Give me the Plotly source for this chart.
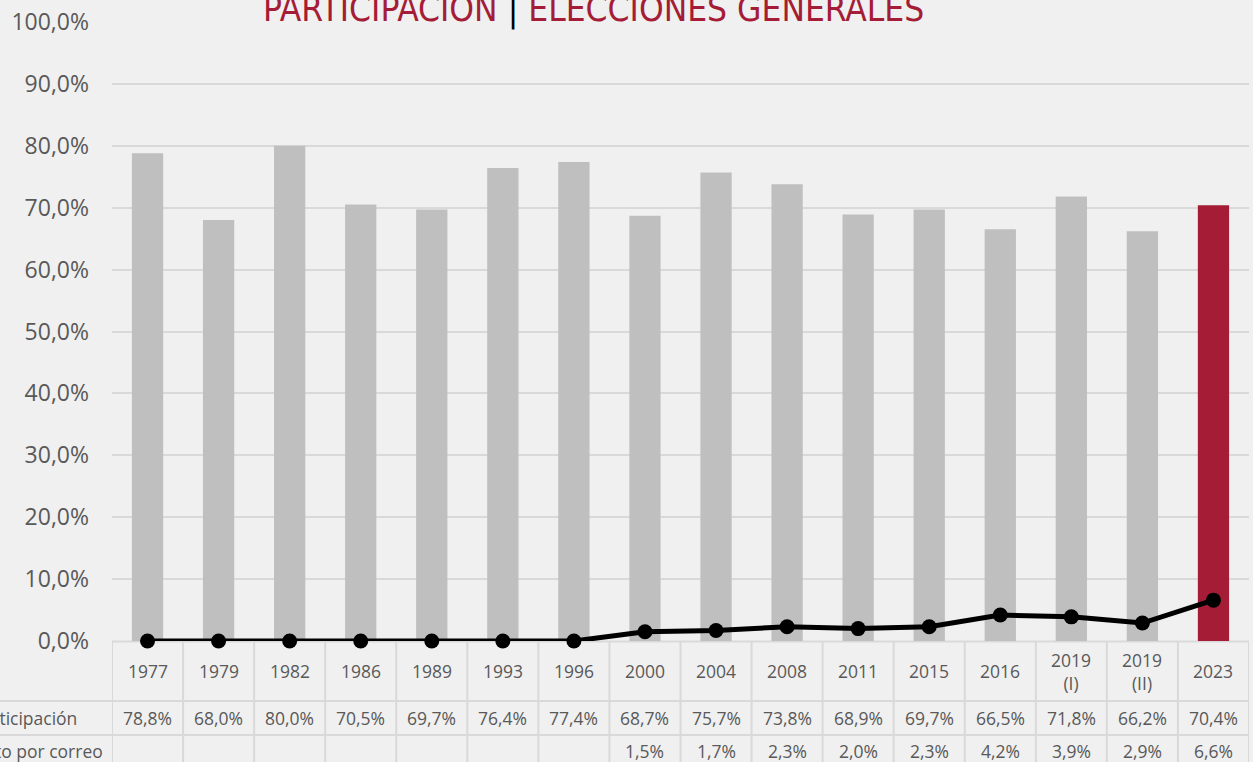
import plotly.graph_objects as go

years = ["1977", "1979", "1982", "1986", "1989", "1993", "1996", "2000", "2004",
         "2008", "2011", "2015", "2016", "2019 (I)", "2019 (II)", "2023"]
year_labels = ["1977", "1979", "1982", "1986", "1989", "1993", "1996", "2000", "2004",
               "2008", "2011", "2015", "2016", "2019<br>(I)", "2019<br>(II)", "2023"]
participacion = [78.8, 68.0, 80.0, 70.5, 69.7, 76.4, 77.4, 68.7, 75.7,
                 73.8, 68.9, 69.7, 66.5, 71.8, 66.2, 70.4]
voto_correo = [0, 0, 0, 0, 0, 0, 0, 1.5, 1.7, 2.3, 2.0, 2.3, 4.2, 3.9, 2.9, 6.6]
y_tickvals = [0, 10, 20, 30, 40, 50, 60, 70, 80, 90, 100]
y_ticktext = ["0,0%", "10,0%", "20,0%", "30,0%", "40,0%", "50,0%", "60,0%",
              "70,0%", "80,0%", "90,0%", "100,0%"]

GRAY_BAR = "#bfbfbf"
RED = "#a51c36"
TEXT = "#595959"
GRID = "#d9d9d9"
BG = "#f0f0f0"

W, H = 1253, 762
ML, MR, MT, MB = 112, 4, 22, 121
PW = W - ML - MR
PH = H - MT - MB


def py(pix):
    """pixel y (from top) -> paper y"""
    return (H - MB - pix) / PH


def px(pix):
    return (pix - ML) / PW


def fmt(v):
    return f"{v:.1f}".replace(".", ",") + "%"


bar_colors = [GRAY_BAR] * (len(years) - 1) + [RED]

fig = go.Figure()
fig.add_trace(go.Bar(x=list(range(len(years))), y=participacion,
                     marker=dict(color=bar_colors, line=dict(width=0)),
                     name="Participación", hoverinfo="skip"))
fig.add_trace(go.Scatter(x=list(range(len(years))), y=voto_correo, mode="lines+markers",
                         line=dict(color="black", width=5),
                         marker=dict(color="black", size=15),
                         cliponaxis=False,
                         name="Voto por correo", hoverinfo="skip"))

shapes = []
n = len(years)
# vertical table lines
for k in range(n + 1):
    shapes.append(dict(type="line", xref="x", yref="paper", x0=k - 0.5, x1=k - 0.5,
                       y0=py(641), y1=py(770), layer="below", line=dict(color=GRID, width=2)))
# horizontal table lines
shapes.append(dict(type="line", xref="paper", yref="paper", x0=0, x1=1, layer="below",
                   y0=py(641.5), y1=py(641.5), line=dict(color=GRID, width=2)))
for yy in (701, 735):
    shapes.append(dict(type="line", xref="paper", yref="paper", x0=px(-10), x1=1,
                       y0=py(yy), y1=py(yy), line=dict(color=GRID, width=2)))

TF = dict(size=17.5, color=TEXT, family="Open Sans")
annotations = []
for i in range(n):
    annotations.append(dict(x=i, xref="x", y=py(671), yref="paper", text=year_labels[i],
                            showarrow=False, yanchor="middle", xanchor="center", font=TF))
    annotations.append(dict(x=i, xref="x", y=py(718), yref="paper", text=fmt(participacion[i]),
                            showarrow=False, yanchor="middle", xanchor="center", font=TF))
    if voto_correo[i] > 0:
        annotations.append(dict(x=i, xref="x", y=py(751), yref="paper", text=fmt(voto_correo[i]),
                                showarrow=False, yanchor="middle", xanchor="center", font=TF))
annotations.append(dict(x=px(-30), xref="paper", y=py(718), yref="paper", text="Participación",
                        showarrow=False, yanchor="middle", xanchor="left", font=TF))
annotations.append(dict(x=px(-28), xref="paper", y=py(751), yref="paper", text="Voto por correo",
                        showarrow=False, yanchor="middle", xanchor="left", font=TF))
# title (cropped at top in the reference)
annotations.append(dict(x=px(593), xref="paper", y=py(9), yref="paper",
                        text=f"<span style='color:{RED}'>PARTICIPACIÓN</span> "
                             "<span style='color:black'>|</span> "
                             f"<span style='color:{RED}'>ELECCIONES GENERALES</span>",
                        showarrow=False, yanchor="middle", xanchor="center",
                        font=dict(size=35, color=RED,
                                  family="Liberation Sans Narrow, DejaVu Sans Condensed, sans-serif")))

fig.update_layout(
    width=W, height=H,
    margin=dict(l=ML, r=MR, t=MT, b=MB, pad=0),
    paper_bgcolor=BG, plot_bgcolor=BG,
    showlegend=False,
    bargap=0.56,
    shapes=shapes, annotations=annotations,
    xaxis=dict(range=[-0.5, n - 0.5], showticklabels=False, showgrid=False,
               zeroline=False, showline=False, ticks=""),
    yaxis=dict(range=[0, 100], tickvals=y_tickvals, ticktext=y_ticktext,
               showgrid=True, gridcolor=GRID, gridwidth=2, zeroline=False,
               showline=False, ticks="", ticklabelstandoff=22,
               tickfont=dict(size=23, color=TEXT, family="Open Sans")),
)

fig.write_html("out.html", config={"displayModeBar": False},
               post_script="document.body.style.margin='0';document.body.style.overflow='hidden';")
